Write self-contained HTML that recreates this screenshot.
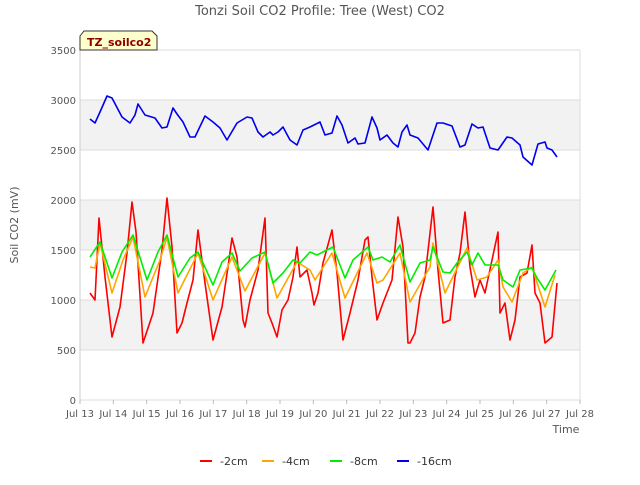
<!DOCTYPE html>
<html><head><meta charset="utf-8"><style>
body{margin:0;background:#fff;font-family:"Liberation Sans","DejaVu Sans",sans-serif}
svg text{font-family:"DejaVu Sans","Liberation Sans",sans-serif}
</style></head><body>
<svg id="c" width="640" height="480" xmlns="http://www.w3.org/2000/svg">
<rect width="640" height="480" fill="#fff"/>
<text x="320" y="15" text-anchor="middle" font-size="13" fill="#555">Tonzi Soil CO2 Profile: Tree (West) CO2</text>
<text transform="translate(18,225) rotate(-90)" text-anchor="middle" font-size="11" fill="#555">Soil CO2 (mV)</text>
<text x="566" y="433" text-anchor="middle" font-size="11" fill="#555">Time</text>
<g id="bands"></g><g id="grid"></g><g id="ticks"></g><g id="series"></g>
<g>
<path d="M80,50 L80,36 L84,31 L152,31 L157,36 L157,50 Z" fill="#ffffcc" stroke="#333" stroke-width="1"/>
<text x="87" y="46" font-size="11" font-weight="bold" fill="#8b0000">TZ_soilco2</text>
</g>
<g id="legend"></g>
</svg>
<script>
const yTicks=[0,500,1000,1500,2000,2500,3000,3500];
const xTickDays=[13,14,15,16,17,18,19,20,21,22,23,24,25,26,27,28];
const seriesNames=["-2cm","-4cm","-8cm","-16cm"];
const seriesColors=["#ff0000","#ffa500","#00ee00","#0000ee"];
const t2=[13.30,13.45,13.57,13.75,13.96,14.20,14.41,14.56,14.68,14.89,15.19,15.46,15.61,15.76,15.91,16.06,16.21,16.39,16.54,16.75,16.99,17.26,17.44,17.56,17.71,17.89,17.95,18.10,18.34,18.55,18.64,18.76,18.91,19.06,19.24,19.39,19.51,19.60,19.81,19.96,20.02,20.14,20.29,20.56,20.71,20.89,21.10,21.34,21.55,21.64,21.76,21.91,22.09,22.36,22.54,22.69,22.84,22.90,23.05,23.20,23.35,23.59,23.74,23.89,24.10,24.25,24.40,24.55,24.70,24.85,25.00,25.15,25.36,25.54,25.60,25.75,25.90,26.05,26.20,26.41,26.56,26.65,26.80,26.95,27.16,27.31];
const v2=[1070,1000,1820,1230,630,930,1470,1980,1680,570,870,1500,2020,1530,670,770,970,1200,1700,1170,600,930,1330,1620,1430,800,730,1000,1300,1820,870,770,630,900,1000,1230,1530,1230,1300,1070,950,1070,1370,1700,1270,600,870,1200,1600,1630,1230,800,970,1200,1830,1530,570,570,670,1030,1230,1930,1300,770,800,1230,1470,1880,1330,1030,1200,1070,1400,1680,870,970,600,800,1230,1270,1550,1070,970,570,630,1170];
const t4=[13.30,13.45,13.60,13.96,14.29,14.59,14.95,15.40,15.61,15.94,16.54,16.99,17.56,17.95,18.55,18.91,19.51,19.90,20.05,20.56,20.95,21.61,21.91,22.09,22.60,22.90,23.50,23.59,23.95,24.61,24.91,25.21,25.54,25.69,25.96,26.29,26.56,26.95,27.25];
const v4=[1330,1320,1570,1070,1400,1630,1030,1400,1630,1070,1470,1000,1430,1090,1470,1020,1380,1300,1200,1470,1020,1470,1170,1200,1470,980,1330,1570,1070,1520,1200,1230,1400,1130,980,1270,1330,930,1250];
const t8=[13.30,13.60,13.96,14.26,14.59,15.01,15.34,15.61,15.94,16.30,16.54,16.99,17.26,17.56,17.80,18.16,18.55,18.79,19.09,19.39,19.60,19.90,20.11,20.59,20.95,21.19,21.64,21.79,22.06,22.30,22.60,22.90,23.20,23.50,23.59,23.89,24.10,24.31,24.61,24.76,24.94,25.15,25.54,25.69,25.99,26.20,26.56,26.71,26.95,27.28];
const v8=[1430,1580,1220,1480,1650,1200,1480,1650,1230,1420,1480,1150,1380,1470,1290,1420,1480,1170,1270,1400,1370,1480,1450,1530,1220,1400,1530,1400,1430,1380,1550,1180,1370,1400,1530,1280,1270,1370,1480,1350,1470,1350,1350,1200,1130,1300,1320,1220,1100,1300];
const t16=[13.30,13.45,13.60,13.81,13.96,14.26,14.50,14.65,14.74,14.95,15.25,15.46,15.61,15.79,15.91,16.09,16.30,16.45,16.75,16.99,17.20,17.41,17.71,18.01,18.16,18.34,18.49,18.70,18.79,18.94,19.09,19.30,19.51,19.69,19.90,20.20,20.35,20.56,20.71,20.86,21.04,21.25,21.34,21.55,21.76,21.91,22.00,22.21,22.39,22.54,22.66,22.81,22.90,23.14,23.44,23.71,23.89,24.16,24.40,24.55,24.76,24.94,25.09,25.30,25.54,25.81,25.96,26.20,26.29,26.56,26.74,26.95,27.01,27.16,27.31];
const v16=[2810,2770,2880,3040,3020,2830,2770,2850,2960,2850,2820,2720,2730,2920,2860,2780,2630,2630,2840,2780,2720,2600,2770,2830,2820,2680,2630,2680,2650,2680,2730,2600,2550,2700,2730,2780,2650,2670,2840,2750,2570,2620,2560,2570,2830,2720,2600,2650,2570,2530,2680,2750,2650,2620,2500,2770,2770,2740,2530,2550,2760,2720,2730,2520,2500,2630,2620,2550,2430,2350,2560,2580,2520,2500,2430];

const L=80,R=580,T=50,B=400;
const xs=d=>L+(d-13)/(28-13)*(R-L);
const ys=v=>B-v/3500*(B-T);
const NS="http://www.w3.org/2000/svg";
function mk(tag,attrs,parent){const e=document.createElementNS(NS,tag);for(const k in attrs)e.setAttribute(k,attrs[k]);parent.appendChild(e);return e;}
const bands=document.getElementById('bands'),grid=document.getElementById('grid'),ticks=document.getElementById('ticks'),ser=document.getElementById('series'),leg=document.getElementById('legend');
mk('rect',{x:L,y:T,width:R-L,height:B-T,fill:'#fff'},bands);
for(let i=0;i<yTicks.length-1;i++){
  if(i%2===1){const r=mk('rect',{x:L,y:ys(yTicks[i+1]),width:R-L,height:ys(yTicks[i])-ys(yTicks[i+1]),fill:'#f2f2f2'},bands);
  
  }
}
yTicks.forEach(v=>{
  const g=mk('line',{x1:L,x2:R,y1:ys(v),y2:ys(v),stroke:'#dcdcdc','stroke-width':1},grid);
  
  
  const t=mk('text',{x:L-4,y:ys(v)+4,'text-anchor':'end','font-size':10,fill:'#555'},ticks);t.textContent=v;
  
  
});
mk('line',{x1:L,x2:L,y1:T,y2:B,stroke:'#ccc'},grid);
mk('line',{x1:R,x2:R,y1:T,y2:B,stroke:'#ddd'},grid);
xTickDays.forEach(d=>{
  mk('line',{x1:xs(d),x2:xs(d),y1:B,y2:B+4,stroke:'#bbb'},ticks);
  const t=mk('text',{x:xs(d),y:B+17,'text-anchor':'middle','font-size':10,fill:'#555'},ticks);t.textContent='Jul '+d;
  
  
});
const data=[[t2,v2],[t4,v4],[t8,v8],[t16,v16]];
data.forEach((s,i)=>{
  const n=Math.min(s[0].length,s[1].length);let d='';
  for(let k=0;k<n;k++)d+=(k?'L':'M')+xs(s[0][k]).toFixed(1)+','+ys(s[1][k]).toFixed(1);
  const p=mk('path',{d:d,fill:'none',stroke:seriesColors[i],'stroke-width':1.6,'stroke-linejoin':'round'},ser);
  
  
});
const legX=[200,262,330,397];
seriesNames.forEach((nm,i)=>{
  const g=mk('g',{},leg);
  
  
  mk('line',{x1:legX[i],x2:legX[i]+12,y1:461,y2:461,stroke:seriesColors[i],'stroke-width':2},g);
  const t=mk('text',{x:legX[i]+20,y:465,'font-size':11,fill:'#333'},g);t.textContent=nm;
});
</script>
</body></html>
